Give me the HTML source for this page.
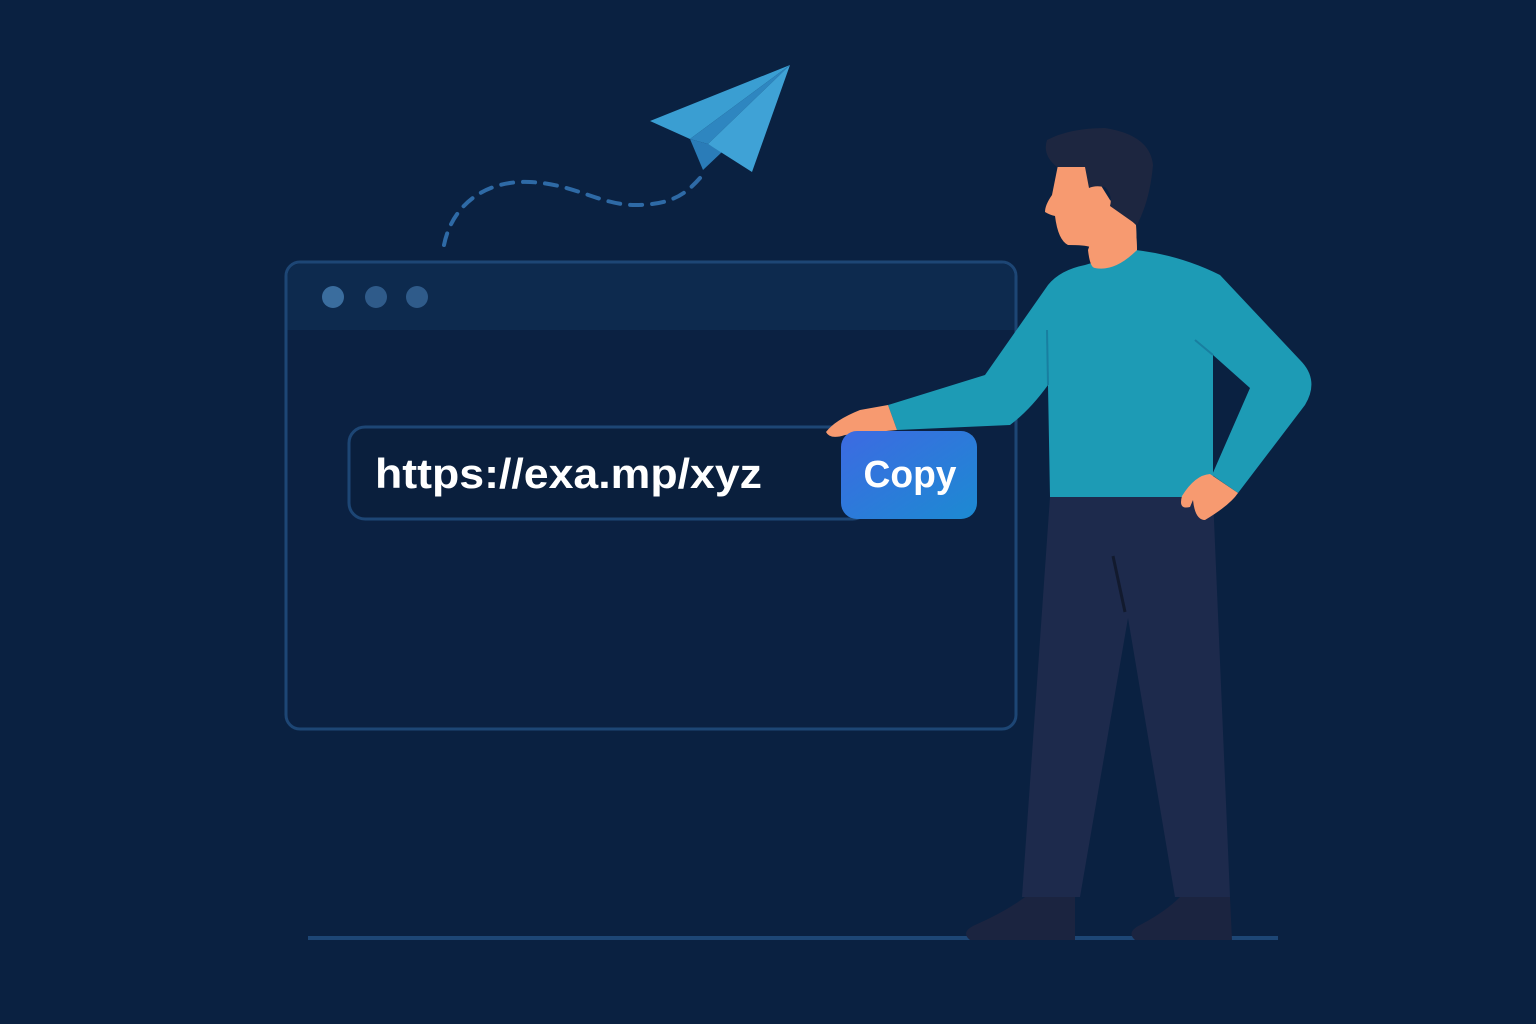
<!DOCTYPE html>
<html><head><meta charset="utf-8"><style>
html,body{margin:0;padding:0;background:#0a2141;}
svg{display:block}
</style></head><body>
<svg width="1536" height="1024" viewBox="0 0 1536 1024" xmlns="http://www.w3.org/2000/svg">
<defs>
<linearGradient id="btn" x1="0" y1="0" x2="1" y2="1">
<stop offset="0" stop-color="#3d6ae2"/><stop offset="1" stop-color="#1c8ad2"/>
</linearGradient>
</defs>
<rect width="1536" height="1024" fill="#0a2141"/>
<path d="M444,245 C452,205 485,180 530,182 S600,205 635,205 S685,195 700,178" fill="none" stroke="#2e6aa6" stroke-width="4" stroke-dasharray="12 10" stroke-linecap="round"/>
<polygon points="790,65 650,121 690,139" fill="#3a9ed2"/>
<polygon points="690,139 703,170 722,152 708,144" fill="#2a7cb8"/>
<polygon points="790,65 690,139 708,144" fill="#2e86c0"/>
<polygon points="790,65 708,144 752,172" fill="#3fa2d6"/>
<rect x="286" y="262" width="730" height="467" rx="14" fill="#0b2142" stroke="#1d4675" stroke-width="3"/>
<path d="M300,263.5 H1002 A13,13 0 0 1 1014.5,277 V330 H287.5 V277 A13,13 0 0 1 300,263.5Z" fill="#0d2a4e"/>
<circle cx="333" cy="297" r="11" fill="#3a6d9e"/>
<circle cx="376" cy="297" r="11" fill="#2f5b8a"/>
<circle cx="417" cy="297" r="11" fill="#2f5b8a"/>
<rect x="349" y="427" width="520" height="92" rx="16" fill="#0a1f3d" stroke="#1d4675" stroke-width="3"/>
<text x="375" y="488" font-family="Liberation Sans, sans-serif" font-size="42" font-weight="bold" fill="#ffffff" textLength="387" lengthAdjust="spacingAndGlyphs">https://exa.mp/xyz</text>
<line x1="308" y1="938" x2="1278" y2="938" stroke="#1d4675" stroke-width="4"/>
<path d="M1050,497 L1213,497 L1230,897 L1175,897 L1128,618 L1080,897 L1022,897 Z" fill="#1d2a4c"/>
<line x1="1113" y1="556" x2="1125" y2="612" stroke="#121a2e" stroke-width="3"/>
<path d="M1025,897 L1075,897 L1075,940 L970,940 Q960,932 975,925 Q1005,912 1025,897Z" fill="#1b2440"/>
<path d="M1180,897 L1230,897 L1232,940 L1135,940 Q1126,932 1140,925 Q1165,912 1180,897Z" fill="#1b2440"/>
<path d="M1085,265 Q1060,270 1048,285 L985,375 L888,405 L897,430 L1010,425 Q1030,410 1048,385 L1050,497 L1213,497 L1213,355 L1250,388 L1212,475 L1238,493 L1305,405 Q1320,380 1300,360 L1220,275 Q1180,255 1135,250 Z" fill="#1d9bb5"/>
<line x1="1047" y1="330" x2="1048" y2="385" stroke="#187fa0" stroke-width="2"/>
<line x1="1195" y1="340" x2="1213" y2="355" stroke="#187fa0" stroke-width="2"/>
<path d="M888,405 L860,410 Q835,420 826,432 Q830,440 845,435 L897,430Z" fill="#f79a70"/>
<path d="M1210,474 Q1195,475 1182,496 Q1178,510 1190,507 L1193,500 Q1195,520 1205,520 Q1230,505 1238,493Z" fill="#f79a70"/>
<path d="M1088,250 Q1090,268 1095,268 Q1115,272 1137,250 L1136,225 L1100,215 Z" fill="#f79a70"/>
<path d="M1058,165 L1052,195 Q1045,205 1045,212 Q1050,215 1055,216 Q1058,240 1068,245 Q1085,245 1090,247 L1095,268 Q1115,270 1137,250 L1136,225 L1110,200 L1085,160 Z" fill="#f79a70"/>
<path d="M1047,140 Q1070,128 1105,128 Q1150,135 1153,165 Q1150,200 1137,225 L1110,206 Q1113,195 1105,187 Q1095,185 1089,188 L1085,167 L1057,167 Q1042,155 1047,140Z" fill="#1d2640"/>
<rect x="841" y="431" width="136" height="88" rx="16" fill="url(#btn)"/>
<text x="910" y="487" text-anchor="middle" font-family="Liberation Sans, sans-serif" font-size="38" font-weight="bold" fill="#ffffff" textLength="93" lengthAdjust="spacingAndGlyphs">Copy</text>
</svg>
</body></html>
